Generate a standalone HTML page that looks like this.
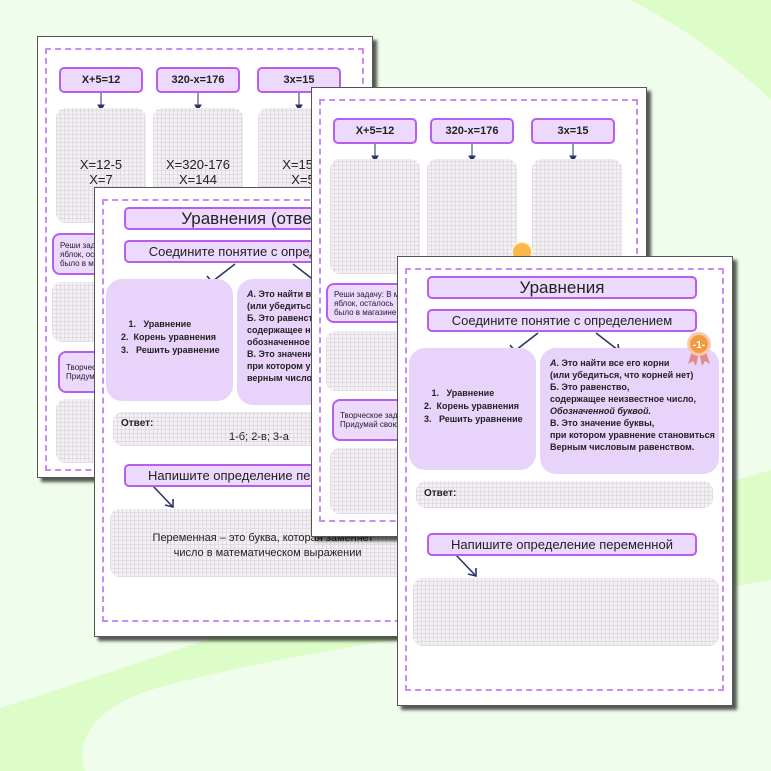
<!DOCTYPE html>
<html><head><meta charset="utf-8"><style>
*{margin:0;padding:0;box-sizing:border-box}
body{width:771px;height:771px;overflow:hidden;background:#f0fdec;position:relative;font-family:"Liberation Sans","DejaVu Sans",sans-serif}
.pg{position:absolute;width:336px;height:450px;background:#fff;border:1px solid #555;box-shadow:4px 4px 3px rgba(0,0,0,.65);overflow:hidden}
.ab{position:absolute}
.dash{position:absolute;left:7px;top:11px;width:319px;height:423px;border:2px dashed #c98cf7}
.bx{position:absolute;background:#ecd9fd;border:2px solid #b65ef0;border-radius:5px;display:flex;align-items:center;justify-content:center;color:#222;text-align:center}
.eq{font-size:11px;font-weight:bold}
.rb{position:absolute;background:#e8d3fb;border-radius:16px}
.gr{position:absolute;border-radius:10px;background-color:#f4f1f4;background-image:repeating-linear-gradient(0deg,#e3dbe3 0 1px,transparent 1px 4px),repeating-linear-gradient(90deg,#e3dbe3 0 1px,transparent 1px 4px)}
.t{position:absolute;color:#222;white-space:nowrap}
</style></head><body>
<svg class="ab" style="left:0;top:0" width="771" height="771">
<path d="M0,708 C120,670 230,630 330,600 L771,470 L771,580 C560,620 330,640 150,690 C90,710 75,745 85,771 L0,771 Z" fill="#dcfcc8"/>
<path d="M630,0 C690,30 740,70 771,100 L771,0 Z" fill="#dcfcc8"/>
</svg>

<!-- PAGE 1 -->
<div class="pg" style="left:37px;top:36px;height:442px">
<div class="dash" style="height:423px"></div>
<div class="bx eq" style="left:21px;top:30px;width:84px;height:26px">X+5=12</div>
<div class="bx eq" style="left:118px;top:30px;width:84px;height:26px">320-x=176</div>
<div class="bx eq" style="left:219px;top:30px;width:84px;height:26px">3x=15</div>
<svg class="ab" style="left:0;top:0" width="336" height="80"><g stroke="#2a3566" fill="#2a3566"><line x1="63" y1="56" x2="63" y2="70"/><path d="M60,68 L66,68 L63,73Z"/><line x1="160" y1="56" x2="160" y2="70"/><path d="M157,68 L163,68 L160,73Z"/><line x1="261" y1="56" x2="261" y2="70"/><path d="M258,68 L264,68 L261,73Z"/></g></svg>
<div class="gr" style="left:18px;top:71px;width:90px;height:115px"></div>
<div class="gr" style="left:115px;top:71px;width:90px;height:115px"></div>
<div class="gr" style="left:220px;top:71px;width:90px;height:115px"></div>
<div class="t" style="left:18px;width:90px;top:120px;text-align:center;font-size:13px;line-height:15px">X=12-5<br>X=7</div>
<div class="t" style="left:115px;width:90px;top:120px;text-align:center;font-size:13px;line-height:15px">X=320-176<br>X=144</div>
<div class="t" style="left:220px;width:90px;top:120px;text-align:center;font-size:13px;line-height:15px">X=15:3<br>X=5</div>
<div class="bx" style="left:14px;top:196px;width:296px;height:42px;justify-content:flex-start;padding-left:6px;font-size:8px;text-align:left;border-radius:8px">Реши задачу: В магазине<br>яблок, осталось<br>было в магазине</div>
<div class="gr" style="left:14px;top:245px;width:296px;height:60px"></div>
<div class="bx" style="left:20px;top:314px;width:290px;height:42px;justify-content:flex-start;padding-left:6px;font-size:8px;text-align:left;border-radius:8px">Творческое задание<br>Придумай свою задачу</div>
<div class="gr" style="left:18px;top:362px;width:292px;height:64px"></div>
</div>

<!-- PAGE 2 -->
<div class="pg" style="left:94px;top:187px">
<div class="dash"></div>
<div class="bx" style="left:29px;top:19px;width:270px;height:23px;font-size:17px">Уравнения (ответы)</div>
<div class="bx" style="left:29px;top:52px;width:270px;height:23px;font-size:13px">Соедините понятие с определением</div>
<svg class="ab" style="left:0;top:0" width="336" height="330"><g stroke="#2a3566" stroke-width="1.6" fill="none"><path d="M140,76 L118,93"/><path d="M112,88 L117,94 L124,92"/><path d="M198,76 L220,93"/><path d="M214,94 L221,94 L220,87"/><path d="M58,298 L77,318"/><path d="M70,317 L78,319 L78,311"/></g></svg>
<div class="rb" style="left:11px;top:91px;width:127px;height:122px"></div>
<div class="rb" style="left:142px;top:91px;width:179px;height:126px"></div>
<div class="t" style="left:26px;top:130px;font-size:9px;font-weight:bold;line-height:13px">&nbsp;&nbsp;&nbsp;1.&nbsp;&nbsp;&nbsp;Уравнение<br>2.&nbsp;&nbsp;Корень уравнения<br>3.&nbsp;&nbsp;&nbsp;Решить уравнение</div>
<div class="t" style="left:152px;top:100px;font-size:9px;font-weight:bold;line-height:12px"><i>А</i>. Это найти все его корни<br>(или убедиться, что корней нет)<br>Б. Это равенство,<br>содержащее неизвестное число,<br>обозначенное буквой.<br>В. Это значение буквы,<br>при котором уравнение становиться<br>верным числовым равенством.</div>
<div class="gr" style="left:18px;top:224px;width:297px;height:34px"></div>
<div class="t" style="left:26px;top:230px;font-size:10px;font-weight:bold">Ответ:</div>
<div class="t" style="left:134px;top:243px;font-size:11px">1-б; 2-в; 3-а</div>
<div class="bx" style="left:29px;top:276px;width:270px;height:23px;font-size:13px">Напишите определение переменной</div>
<div class="gr" style="left:15px;top:321px;width:306px;height:68px"></div>
<div class="t" style="left:15px;width:306px;top:343px;text-align:center;font-size:11px;line-height:15px">Переменная – это буква, которая заменяет<br>&nbsp;&nbsp;&nbsp;число в математическом выражении</div>
</div>

<!-- PAGE 3 -->
<div class="pg" style="left:311px;top:87px">
<div class="dash"></div>
<div class="bx eq" style="left:21px;top:30px;width:84px;height:26px">X+5=12</div>
<div class="bx eq" style="left:118px;top:30px;width:84px;height:26px">320-x=176</div>
<div class="bx eq" style="left:219px;top:30px;width:84px;height:26px">3x=15</div>
<svg class="ab" style="left:0;top:0" width="336" height="80"><g stroke="#2a3566" fill="#2a3566"><line x1="63" y1="56" x2="63" y2="70"/><path d="M60,68 L66,68 L63,73Z"/><line x1="160" y1="56" x2="160" y2="70"/><path d="M157,68 L163,68 L160,73Z"/><line x1="261" y1="56" x2="261" y2="70"/><path d="M258,68 L264,68 L261,73Z"/></g></svg>
<div class="gr" style="left:18px;top:71px;width:90px;height:115px"></div>
<div class="gr" style="left:115px;top:71px;width:90px;height:115px"></div>
<div class="gr" style="left:220px;top:71px;width:90px;height:115px"></div>
<div class="ab" style="left:199px;top:153px;width:22px;height:22px;border-radius:50%;background:#fbb84a;border:2px solid #fff4d8"></div>
<div class="bx" style="left:14px;top:195px;width:296px;height:40px;justify-content:flex-start;padding-left:6px;font-size:8px;text-align:left;border-radius:8px">Реши задачу: В магазине<br>яблок, осталось<br>было в магазине</div>
<div class="gr" style="left:14px;top:243px;width:296px;height:60px"></div>
<div class="bx" style="left:20px;top:311px;width:290px;height:42px;justify-content:flex-start;padding-left:6px;font-size:8px;text-align:left;border-radius:8px">Творческое задание<br>Придумай свою задачу</div>
<div class="gr" style="left:18px;top:360px;width:292px;height:66px"></div>
</div>

<!-- PAGE 4 -->
<div class="pg" style="left:397px;top:256px">
<div class="dash"></div>
<div class="bx" style="left:29px;top:19px;width:270px;height:23px;font-size:17px">Уравнения</div>
<div class="bx" style="left:29px;top:52px;width:270px;height:23px;font-size:13px">Соедините понятие с определением</div>
<svg class="ab" style="left:0;top:0" width="336" height="330"><g stroke="#2a3566" stroke-width="1.6" fill="none"><path d="M140,76 L118,93"/><path d="M112,88 L117,94 L124,92"/><path d="M198,76 L220,93"/><path d="M214,94 L221,94 L220,87"/><path d="M58,298 L77,318"/><path d="M70,317 L78,319 L78,311"/></g></svg>
<div class="rb" style="left:11px;top:91px;width:127px;height:122px"></div>
<div class="rb" style="left:142px;top:91px;width:179px;height:126px"></div>
<svg class="ab" style="left:286px;top:73px" width="30" height="40"><path d="M9,18 L4,34 L9,31 L12,36 L15,22Z M21,18 L26,34 L21,31 L18,36 L15,22Z" fill="#e58a8a"/><circle cx="15" cy="14" r="12" fill="#f9c9b0"/><circle cx="15" cy="14" r="9" fill="#f39a3c"/><text x="15" y="18" font-size="10" font-weight="bold" fill="#fff" text-anchor="middle" font-family="Liberation Sans">-1-</text></svg>
<div class="t" style="left:26px;top:130px;font-size:9px;font-weight:bold;line-height:13px">&nbsp;&nbsp;&nbsp;1.&nbsp;&nbsp;&nbsp;Уравнение<br>2.&nbsp;&nbsp;Корень уравнения<br>3.&nbsp;&nbsp;&nbsp;Решить уравнение</div>
<div class="t" style="left:152px;top:100px;font-size:9px;font-weight:bold;line-height:12px"><i>А</i>. Это найти все его корни<br>(или убедиться, что корней нет)<br>Б. Это равенство,<br>содержащее неизвестное число,<br><i>Обозначенной буквой.</i><br>В. Это значение буквы,<br>при котором уравнение становиться<br>Верным числовым равенством.</div>
<div class="gr" style="left:18px;top:224px;width:297px;height:27px"></div>
<div class="t" style="left:26px;top:231px;font-size:10px;font-weight:bold">Ответ:</div>
<div class="bx" style="left:29px;top:276px;width:270px;height:23px;font-size:13px">Напишите определение переменной</div>
<div class="gr" style="left:15px;top:321px;width:306px;height:68px"></div>
</div>
</body></html>
